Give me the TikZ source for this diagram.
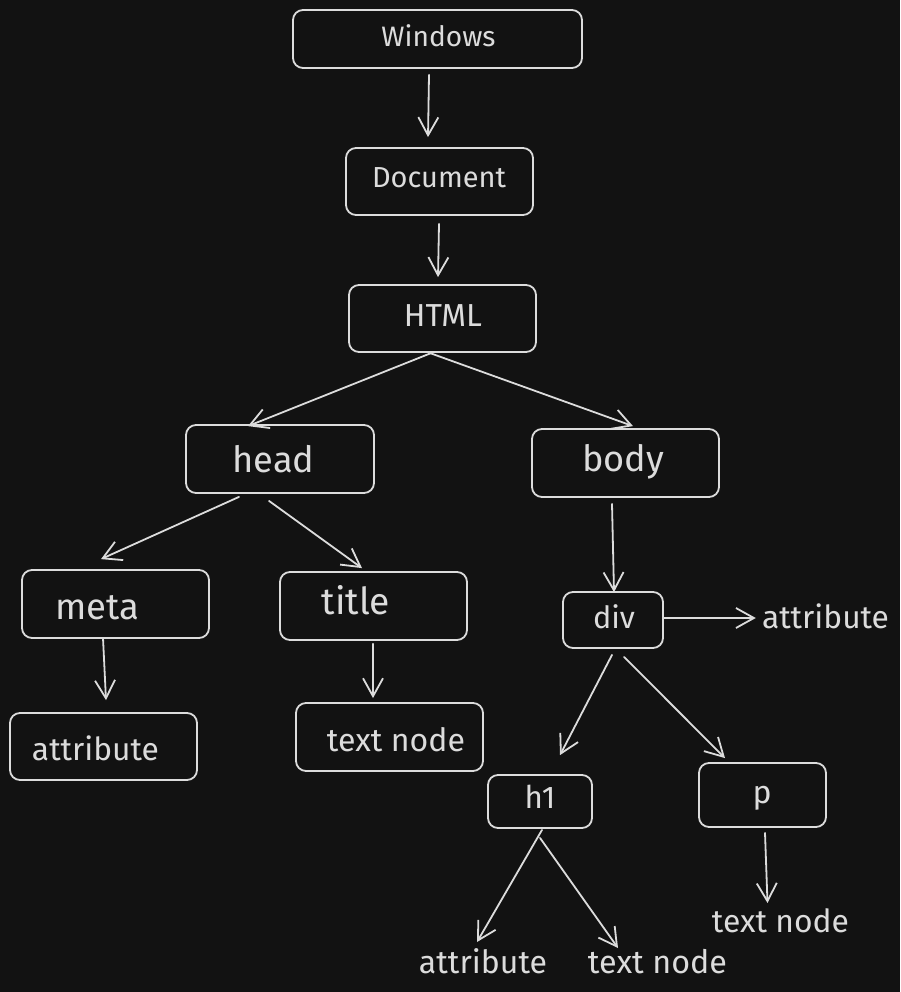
\documentclass[tikz,border=0pt]{standalone}
\usepackage{fontspec}
\setmainfont{Fira Sans}
\usetikzlibrary{arrows.meta,calc}
\definecolor{bg}{HTML}{121212}
\definecolor{fg}{HTML}{DCDCDC}
\newcommand{\fitw}[2]{\resizebox{#1pt}{!}{#2}}
\begin{document}
\begin{tikzpicture}[x=1pt,y=-1pt,
  box/.style={draw=fg, line width=1.8pt, rounded corners=10pt, inner sep=0pt},
  lbl/.style={text=fg, inner sep=0pt, anchor=base},
  arr/.style={draw=fg, line width=1.8pt, line cap=round, -{Straight Barb[length=18pt,width=20pt]}}]
\fill[bg] (0,0) rectangle (900,992);
\useasboundingbox (0,0) rectangle (900,992);

% boxes
\node[box, minimum width=289pt, minimum height=58pt] (win)   at (437.5,39)   {};
\node[box, minimum width=187pt, minimum height=67pt] (doc)   at (439.5,181.5) {};
\node[box, minimum width=187pt, minimum height=67pt] (html)  at (442.5,318.5) {};
\node[box, minimum width=188pt, minimum height=68pt] (head)  at (280,459)    {};
\node[box, minimum width=187pt, minimum height=68pt] (body)  at (625.5,463)  {};
\node[box, minimum width=187pt, minimum height=68pt] (meta)  at (115.5,604)  {};
\node[box, minimum width=187pt, minimum height=68pt] (title) at (373.5,606)  {};
\node[box, minimum width=187pt, minimum height=67pt] (attr1) at (103.5,746.5) {};
\node[box, minimum width=187pt, minimum height=68pt] (tn1)   at (389.5,737)  {};
\node[box, minimum width=100pt, minimum height=56pt] (div)   at (613,620)    {};
\node[box, minimum width=104pt, minimum height=53pt] (h1)    at (540,801.5)  {};
\node[box, minimum width=127pt, minimum height=64pt] (p)     at (762.5,795)  {};

% labels
\node[lbl] (winT)   at (438.5,46.5) {\fitw{114}{Windows}};
\node[lbl] (docT)   at (439,188)    {\fitw{134}{Document}};
\node[lbl] (htmlT)  at (443,326)    {\fitw{78}{HTML}};
\node[lbl] (headT)  at (273.5,472)  {\fitw{82}{head}};
\node[lbl] (bodyT)  at (623,471)    {\fitw{82}{body}};
\node[lbl] (metaT)  at (97,619)     {\fitw{84}{meta}};
\node[lbl] (titleT) at (356,614)    {\fitw{68}{title}};
\node[lbl] (attr1T) at (95.5,760)   {\fitw{127}{attribute}};
\node[lbl] (tn1T)   at (396,751)    {\fitw{138}{text node}};
\node[lbl] (divT)   at (614,628)    {\fitw{42}{div}};
\node[lbl] (divattr) at (825.5,628) {\fitw{127}{attribute}};
\node[lbl] (h1T)    at (540,808)    {\fitw{31}{h1}};
\node[lbl] (pT)     at (762,803)    {\fitw{19}{p}};
\node[lbl] (tn3)    at (780.5,932)  {\fitw{137}{text node}};
\node[lbl] (h1attr) at (483,973)    {\fitw{128}{attribute}};
\node[lbl] (tn2)    at (657.5,973)  {\fitw{139}{text node}};

% connectors
\draw[arr] ($(win.south)+(-8.5,6)$)   -- ($(doc.north)+(-11.5,-10)$);
\draw[arr] ($(doc.south)+(-0.5,8)$)   -- ($(html.north)+(-4.5,-7)$);
\draw[arr] ($(html.south)+(-11,0)$)   -- ($(head.north)+(-32,2)$);
\draw[arr] ($(html.south)+(-13,0)$)   -- ($(body.north)+(7.5,-2)$);
\draw[arr] ($(head.south)+(-41,3)$)   -- ($(meta.north)+(-14.5,-10)$);
\draw[arr] ($(head.south)+(-11,7)$)   -- ($(title.north)+(-11.5,-3)$);
\draw[arr] ($(meta.south)+(-12.5,-1)$) -- ($(attr1.north)+(2.5,-12)$);
\draw[arr] ($(title.south)+(-0.5,3)$) -- ($(tn1.north)+(-16.5,-4)$);
\draw[arr] ($(body.south)+(-13.5,6)$) -- ($(div.north)+(1,1)$);
\draw[arr] ($(div.east)+(0,-2)$)      -- ($(divattr.west |- div.east)+(-6,-2)$);
\draw[arr] ($(div.south)+(-1,6)$)     -- ($(h1.north)+(20,-19)$);
\draw[arr] ($(div.south)+(11,8)$)     -- ($(p.north)+(-37.5,-4)$);
\draw[arr] ($(h1.south)+(2,1)$)       -- ($(h1attr.base)+(-6,-31)$);
\draw[arr] ($(h1.south)+(0,9)$)       -- ($(tn2.base)+(-39.5,-25)$);
\draw[arr] ($(p.south)+(2.5,5)$)      -- ($(tn3.base)+(-13,-29)$);
\end{tikzpicture}
\end{document}
